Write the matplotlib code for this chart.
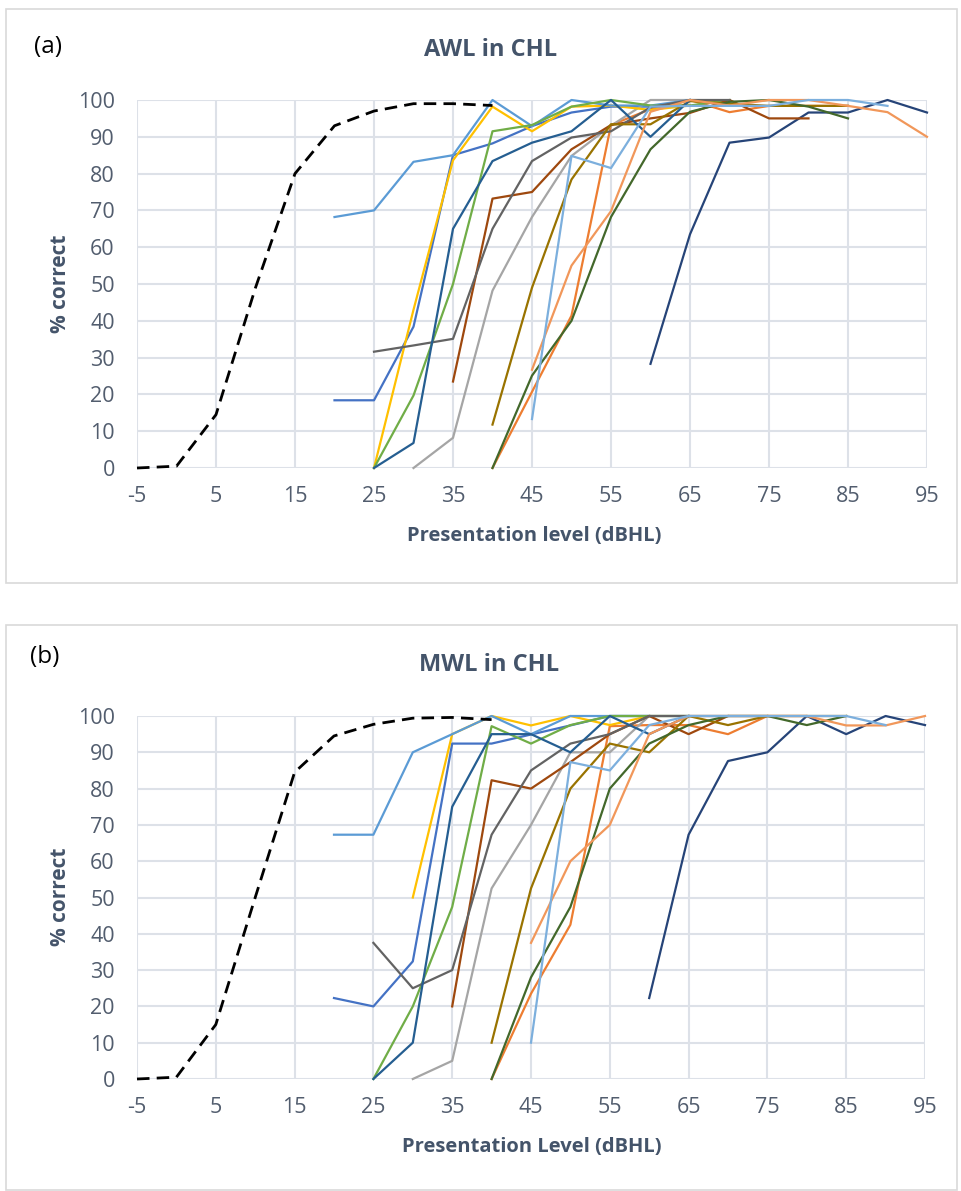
import numpy as np
import matplotlib
matplotlib.use('Agg')
from matplotlib import pyplot as plt
from matplotlib.patches import Rectangle

plt.rcParams['font.family'] = ['Open Sans', 'DejaVu Sans']

W, H = 961, 1191

# x-axis categories (dBHL)
levels = list(range(-5, 100, 5))
tick_levels = list(range(-5, 100, 10))
pct_ticks = list(range(0, 101, 10))

# Excel-style colours of the individual listeners
c_blue = '#4472C4'
c_orange = '#ED7D31'
c_gray = '#A5A5A5'
c_gold = '#FFC000'
c_ltblue = '#5B9BD5'
c_green = '#70AD47'
c_navy = '#264478'
c_brown = '#9E480E'
c_dkgray = '#636363'
c_dkgold = '#997300'
c_midblue = '#255E91'
c_dkgreen = '#43682B'
c_ltorange = '#F1975A'
c_paleblue = '#7CAFDD'

# normal-hearing reference function (dashed), starts at -5 dBHL
awl_ref = [0, 0.5, 14.5, 49, 80, 93, 97, 99, 99, 98.5]
mwl_ref = [0, 0.5, 15, 50, 84.5, 94.5, 97.7, 99.4, 99.6, 99]

# (a) AWL in CHL: (first level, % correct values)
awl_blue = (20, [18.4, 18.4, 38.4, 85, 88.2, 92.9, 96.6, 98.2, 98.2, 98.5])
awl_orange = (40, [0, 20.7, 41.4, 93.2, 97.5, 100, 96.7, 98.4, 98.4, 98.4])
awl_gray = (30, [0, 8.2, 48.2, 68.2, 84.8, 93, 100, 100])
awl_gold = (25, [0, 43, 83.6, 98.2, 91.5, 98.2, 98.5, 97.3, 98.5])
awl_ltblue = (20, [68.2, 70, 83.2, 85, 100, 92.9, 100, 98.5, 98.5, 100])
awl_green = (25, [0, 19.7, 50, 91.5, 93.2, 98.2, 100, 98.5, 98.5, 100])
awl_navy = (60, [28.3, 63.5, 88.4, 89.8, 96.6, 96.6, 100, 96.6])
awl_brown = (35, [23.5, 73.2, 75, 86.6, 93.2, 95, 96.5, 100, 95, 95])
awl_dkgray = (25, [31.6, 33.3, 35.1, 65, 83.4, 89.8, 91.5, 98, 100, 100])
awl_dkgold = (40, [11.8, 49, 78.4, 93.4, 93.4, 99.7, 99, 98.4, 98.4, 98.4])
awl_midblue = (25, [0, 6.8, 65, 83.4, 88.4, 91.5, 100, 90, 100])
awl_dkgreen = (40, [0, 25.1, 40, 68.2, 86.6, 96.8, 99.5, 100, 98.2, 95])
awl_ltorange = (45, [26.7, 55, 69.8, 96.8, 100, 98.5, 100, 100, 98.4, 96.7, 90])
awl_paleblue = (45, [13.3, 84.8, 81.5, 98.2, 98.4, 98.4, 98.4, 100, 100, 98.4])

# (b) MWL in CHL
mwl_blue = (20, [22.3, 20, 32.4, 92.4, 92.4, 94.9, 97.4, 100, 100])
mwl_orange = (40, [0, 23.5, 42.5, 97.2, 97.5, 97.5, 95, 100, 100])
mwl_gray = (30, [0, 5, 52.5, 70, 90, 90, 100, 100])
mwl_gold = (30, [50, 95, 100, 97.4, 100, 97.5, 100])
mwl_ltblue = (20, [67.3, 67.3, 90, 95, 100, 95, 100, 100, 100])
mwl_green = (25, [0, 20, 47.4, 97.2, 92.4, 97.5, 100, 100, 100])
mwl_navy = (60, [22.3, 67.3, 87.6, 90, 100, 95, 100, 97.5])
mwl_brown = (35, [20, 82.3, 80, 87.3, 95, 100, 95, 100, 100])
mwl_dkgray = (25, [37.5, 25, 30, 67.3, 85, 92.4, 95, 100, 100, 100])
mwl_dkgold = (40, [10, 52.5, 80, 92.4, 90, 100, 97.5, 100, 100, 100])
mwl_midblue = (25, [0, 10, 75, 95, 95, 90, 100, 95, 100])
mwl_dkgreen = (40, [0, 28, 47.4, 80, 92.4, 97.5, 100, 100, 97.5, 100])
mwl_ltorange = (45, [37.5, 60, 70, 95, 100, 100, 100, 100, 97.4, 97.4, 100])
mwl_paleblue = (45, [10, 87.3, 85, 97.5, 100, 100, 100, 100, 100, 97.5])

colours = [c_blue, c_orange, c_gray, c_gold, c_ltblue, c_green, c_navy, c_brown,
           c_dkgray, c_dkgold, c_midblue, c_dkgreen, c_ltorange, c_paleblue]
awl_series = [awl_blue, awl_orange, awl_gray, awl_gold, awl_ltblue, awl_green, awl_navy,
              awl_brown, awl_dkgray, awl_dkgold, awl_midblue, awl_dkgreen, awl_ltorange,
              awl_paleblue]
mwl_series = [mwl_blue, mwl_orange, mwl_gray, mwl_gold, mwl_ltblue, mwl_green, mwl_navy,
              mwl_brown, mwl_dkgray, mwl_dkgold, mwl_midblue, mwl_dkgreen, mwl_ltorange,
              mwl_paleblue]

TITLE_COL = '#44546A'
TICK_COL = '#525D6E'
GRID_COL = '#DDE1E8'


def px_rect(x0, y0, x1, y1):
    """pixel box (top-left origin) -> figure fraction rect"""
    return [x0 / W, 1 - y1 / H, (x1 - x0) / W, (y1 - y0) / H]


def draw_panel(fig, rect, series, ref):
    ax = fig.add_axes(rect)
    for (start, vals), col in zip(series, colours):
        xs = np.arange(start, start + 5 * len(vals), 5)
        ax.plot(xs, vals, color=col, lw=1.6, clip_on=False, zorder=3)
    xs = np.arange(-5, -5 + 5 * len(ref), 5)
    ax.plot(xs, ref, color='black', lw=2.0, ls=(0, (4.5, 2.6)), clip_on=False, zorder=4)

    ax.set_xlim(levels[0], levels[-1])
    ax.set_ylim(0, 100)
    ax.set_xticks(tick_levels)
    ax.set_xticklabels([str(v) for v in tick_levels])
    ax.set_yticks(pct_ticks)
    ax.tick_params(length=0, labelsize=15.5, labelcolor=TICK_COL, pad=13)
    ax.tick_params(axis='y', pad=16)
    ax.grid(True, color=GRID_COL, lw=1.5)
    ax.set_axisbelow(True)
    for s in ax.spines.values():
        s.set_visible(False)
    return ax


fig = plt.figure(figsize=(W / 100, H / 100), dpi=100)

# chart area borders
for y0, y1 in [(9, 583), (625, 1190)]:
    x, y, w, h = px_rect(6, y0, 957, y1)
    fig.patches.append(Rectangle((x, y), w, h, transform=fig.transFigure,
                                 fill=False, ec='#D9D9D9', lw=1.2))

draw_panel(fig, px_rect(137, 100, 927, 468), awl_series, awl_ref)
draw_panel(fig, px_rect(137, 716, 925, 1079), mwl_series, mwl_ref)

fig.text(48 / W, 1 - 47 / H, '(a)', fontsize=17.5, ha='center', va='center')
fig.text(491 / W, 1 - 50 / H, 'AWL in CHL', fontsize=17, fontweight='bold',
         color=TITLE_COL, ha='center', va='center')
fig.text(534 / W, 1 - 536 / H, 'Presentation level (dBHL)', fontsize=14.5,
         fontweight='bold', color=TITLE_COL, ha='center', va='center')
fig.text(60 / W, 1 - 284 / H, '% correct', fontsize=15, fontweight='bold',
         color=TITLE_COL, ha='center', va='center', rotation=90)

fig.text(45 / W, 1 - 657 / H, '(b)', fontsize=17.5, ha='center', va='center')
fig.text(489 / W, 1 - 665 / H, 'MWL in CHL', fontsize=17, fontweight='bold',
         color=TITLE_COL, ha='center', va='center')
fig.text(532 / W, 1 - 1147 / H, 'Presentation Level (dBHL)', fontsize=14.5,
         fontweight='bold', color=TITLE_COL, ha='center', va='center')
fig.text(60 / W, 1 - 897 / H, '% correct', fontsize=15, fontweight='bold',
         color=TITLE_COL, ha='center', va='center', rotation=90)

fig.savefig('out.png', dpi=100, facecolor='white')
